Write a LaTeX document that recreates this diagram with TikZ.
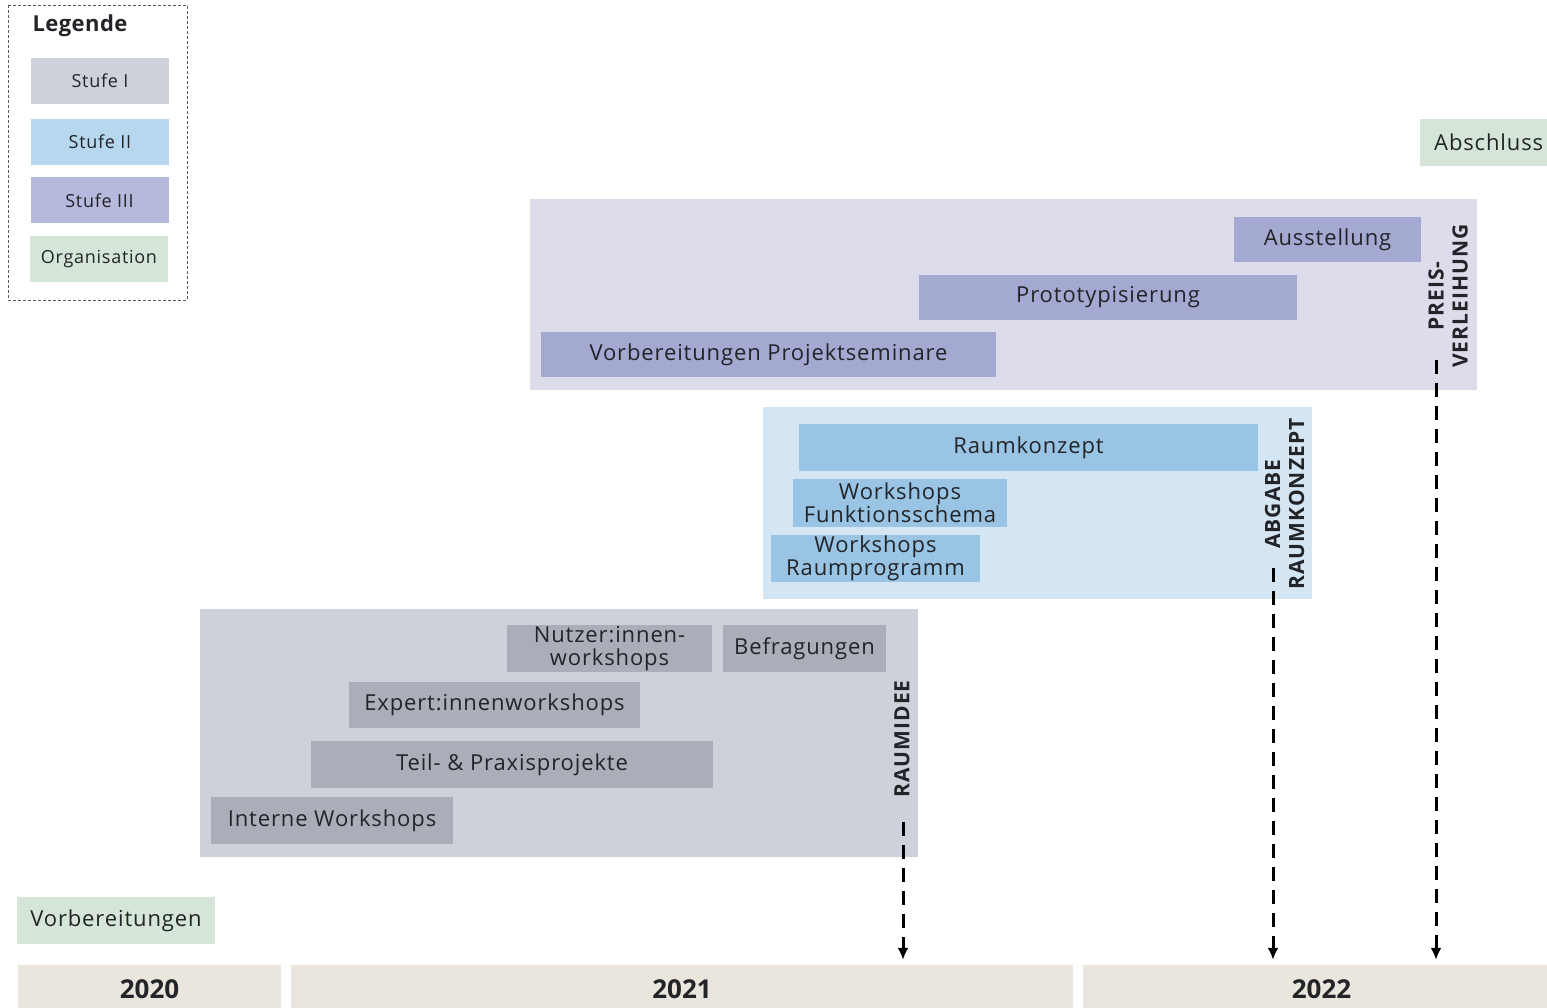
\documentclass[tikz,border=0pt]{standalone}
\usepackage{fontspec}
\setmainfont{Open Sans}
\usetikzlibrary{arrows.meta}

\definecolor{txt}{HTML}{222428}
\definecolor{bgone}{HTML}{CDD1D9}
\definecolor{barone}{HTML}{A9AEB8}
\definecolor{bgtwo}{HTML}{D4E6F4}
\definecolor{bartwo}{HTML}{99C4E4}
\definecolor{bgthree}{HTML}{DCDCEA}
\definecolor{barthree}{HTML}{A4A9D2}
\definecolor{legtwo}{HTML}{B6D7EE}
\definecolor{legthree}{HTML}{B6B9DD}
\definecolor{orga}{HTML}{D5E5D7}
\definecolor{year}{HTML}{EAE6DE}

\tikzset{
  bar/.style={minimum height=47pt, inner sep=0pt, align=center, text=txt,
    font=\fontsize{22}{23}\selectfont\addfontfeatures{LetterSpace=4}},
  barone/.style={bar, fill=barone},
  bartwo/.style={bar, fill=bartwo},
  barthree/.style={bar, fill=barthree},
  orgabox/.style={bar, fill=orga},
  legbox/.style={bar, minimum width=138pt, minimum height=46pt,
    font=\fontsize{18}{20}\selectfont\addfontfeatures{LetterSpace=4}},
  yearbox/.style={bar, fill=year, minimum height=48pt,
    font=\fontsize{26}{28}\selectfont\bfseries},
  milestone/.style={rotate=90, align=center, inner sep=0pt, text=txt,
    font=\fontsize{21}{24}\selectfont\bfseries\addfontfeatures{LetterSpace=5}},
  deadline/.style={line width=3pt, dash pattern=on 14pt off 9pt,
    -{Latex[length=12pt,width=11pt]}, shorten >=5pt}
}

\begin{document}
\begin{tikzpicture}[x=1pt, y=-1pt]
\useasboundingbox (0,0) rectangle (1547,1008);

% legend
\draw[densely dashed, gray!70!black, line width=0.8pt] (8,5) rectangle (187,300);
\node[text=txt, font=\fontsize{22}{24}\selectfont\bfseries\addfontfeatures{LetterSpace=2}] (legende) at (80,26) {Legende};
\node[legbox, fill=bgone] (legeins) at (100,81) {Stufe I};
\node[legbox, fill=legtwo] (legzwei) at (100,142) {Stufe II};
\node[legbox, fill=legthree] (legdrei) at (99.5,200.5) {Stufe III};
\node[legbox, fill=orga] (legorga) at (99,259.5) {Organisation};

% stage backgrounds
\fill[bgthree] (530,199) rectangle (1477,390);
\fill[bgtwo] (763,407) rectangle (1312,599);
\fill[bgone] (200,609) rectangle (918,857);

% Stufe III
\node[barthree, minimum width=187pt, minimum height=45pt] (ausstellung) at (1327.5,239.5) {Ausstellung};
\node[barthree, minimum width=378pt, minimum height=45pt] (proto) at (1108,297.5) {Prototypisierung};
\node[barthree, minimum width=455pt, minimum height=45pt] (seminare) at (768.5,354.5) {Vorbereitungen Projektseminare};

% Stufe II
\node[bartwo, minimum width=459pt] (raumkonzept) at (1028.5,447.5) {Raumkonzept};
\node[bartwo, minimum width=214pt, minimum height=48pt] (funktion) at (900,503) {Workshops\\Funktionsschema};
\node[bartwo, minimum width=209pt] (programm) at (875.5,558.5) {Workshops\\Raumprogramm};

% Stufe I
\node[barone, minimum width=205pt] (nutzer) at (609.5,648.5) {Nutzer:innen-\\workshops};
\node[barone, minimum width=163pt] (befragung) at (804.5,648.5) {Befragungen};
\node[barone, minimum width=291pt, minimum height=46pt] (expert) at (494.5,705) {Expert:innenworkshops};
\node[barone, minimum width=402pt] (praxis) at (512,764.5) {Teil- \& Praxisprojekte};
\node[barone, minimum width=242pt] (intern) at (332,820.5) {Interne Workshops};

% Organisation
\node[orgabox, minimum width=198pt] (vorb) at (116,920.5) {Vorbereitungen};
\node[orgabox, anchor=west, minimum width=160pt, align=left, inner xsep=14pt,
  text width=140pt] (abschluss) at (1420,142.5) {Abschluss};

% years
\node[yearbox, minimum width=263pt] (y2020) at (149.5,989) {2020};
\node[yearbox, minimum width=782pt] (y2021) at (682,989) {2021};
\node[yearbox, minimum width=477pt] (y2022) at (1321.5,989) {2022};

% milestones
\node[milestone] (raumidee) at (902,739) {RAUMIDEE};
\node[milestone] (abgabe) at (1284.5,504) {ABGABE\\RAUMKONZEPT};
\node[milestone] (preis) at (1448,296) {PREIS-\\VERLEIHUNG};

\coordinate (ideestart) at (903,822);
\coordinate (abgabestart) at (1273,568);
\coordinate (preisstart) at (1436,360);

\draw[deadline] (ideestart) -- (ideestart |- y2021.north);
\draw[deadline] (abgabestart) -- (abgabestart |- y2022.north);
\draw[deadline] (preisstart) -- (preisstart |- y2022.north);

\end{tikzpicture}
\end{document}
